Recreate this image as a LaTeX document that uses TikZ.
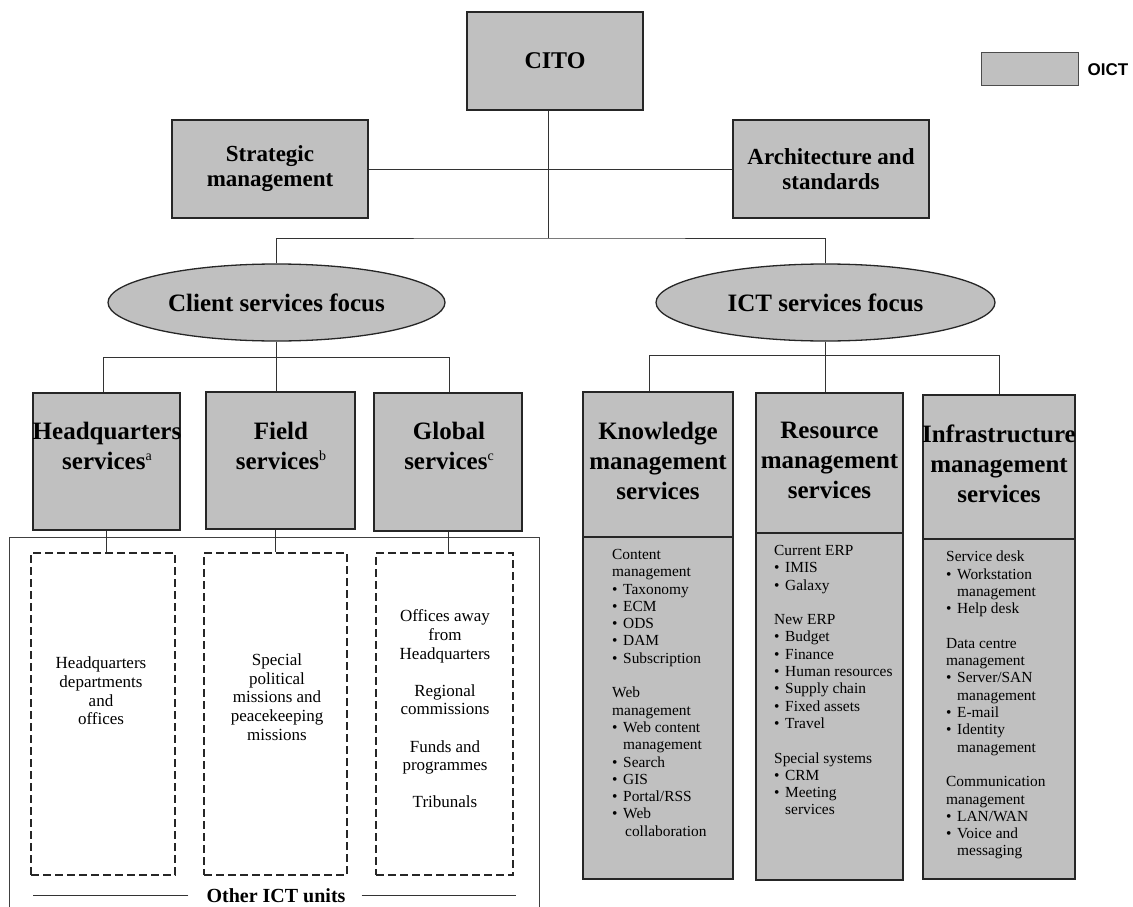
\documentclass[tikz,border=0pt]{standalone}
\usepackage{fontspec}
\setmainfont{Liberation Serif}
\newfontfamily\arialfont{Liberation Sans}
\usetikzlibrary{shapes.geometric}
\definecolor{boxgray}{HTML}{C0C0C0}
\newcommand{\lbul}{\makebox[11pt][l]{•}}
\newcommand{\lind}{\hspace*{11pt}}
\newcommand{\supl}[1]{\raisebox{9pt}{\fontsize{14}{14}\mdseries\selectfont #1}}
\begin{document}
\begin{tikzpicture}[x=1pt,y=-1pt,
  gbox/.style={draw=black!85, line width=1.6pt, fill=boxgray, inner sep=0pt},
  conn/.style={draw=black!80, line width=0.9pt},
  dbox/.style={draw=black!85, line width=1.8pt, dash pattern=on 8pt off 4pt, inner sep=0pt},
  ttl/.style={font=\fontsize{23}{25}\selectfont\bfseries, align=center},
  stitle/.style={font=\fontsize{25}{30}\selectfont\bfseries, align=center, inner sep=0pt},
  ltxt/.style={font=\fontsize{15.4}{17.3}\selectfont, align=left, inner sep=0pt, anchor=north west},
  dtxt/.style={font=\fontsize{17}{18.6}\selectfont, align=center, inner sep=0pt},
  focus/.style={ellipse, draw=black!85, line width=1.3pt, fill=boxgray, inner sep=0pt,
     minimum height=77pt, font=\fontsize{25}{28}\selectfont\bfseries},
]
\useasboundingbox (0,0) rectangle (1133,907);

% top level
\node[gbox, minimum width=176pt, minimum height=98pt, font=\fontsize{24}{28}\selectfont\bfseries] (cito) at (555,61) {CITO};
\node[gbox, minimum width=196pt, minimum height=98pt, ttl] (strat) at (270,169) {Strategic\\management};
\node[gbox, minimum width=196pt, minimum height=98pt, ttl] (arch) at (831,169) {Architecture and\\standards};

% legend
\node[draw=black!70, line width=1pt, fill=boxgray, minimum width=97pt, minimum height=33pt, inner sep=0pt] (leg) at (1029.5,69.5) {};
\node[font=\arialfont\fontsize{17}{20}\selectfont\bfseries, anchor=west, inner sep=0pt, xshift=9pt] (legt) at (leg.east) {OICT};

% focus ellipses
\node[focus, minimum width=337pt] (client) at (276.5,302.5) {Client services focus};
\node[focus, minimum width=339pt] (ict) at (825.5,302.5) {ICT services focus};

% left service boxes
\node[gbox, minimum width=147pt, minimum height=137pt] (hq) at (106.5,461.5) {};
\node[gbox, minimum width=149pt, minimum height=137pt] (field) at (280.5,460.5) {};
\node[gbox, minimum width=148pt, minimum height=138pt] (global) at (448,462) {};
\node[stitle] (hqt) at (107,445.5) {Headquarters\\services\supl{a}};
\node[stitle] (fieldt) at (281,445.5) {Field\\services\supl{b}};
\node[stitle] (globalt) at (449,445.5) {Global\\services\supl{c}};

% right service columns
\node[gbox, minimum width=150pt, minimum height=342pt] (kl) at (658,708) {};
\node[gbox, minimum width=150pt, minimum height=145pt] (km) at (658,464.5) {};
\node[gbox, minimum width=147pt, minimum height=347pt] (rl) at (829.5,706.5) {};
\node[gbox, minimum width=147pt, minimum height=140pt] (rm) at (829.5,463) {};
\node[gbox, minimum width=152pt, minimum height=340pt] (il) at (999,709) {};
\node[gbox, minimum width=152pt, minimum height=144pt] (im) at (999,467) {};
\node[stitle] (kmt) at (658,460.5) {Knowledge\\management\\services};
\node[stitle] (rmt) at (829.5,460.5) {Resource\\management\\services};
\node[stitle] (imt) at (999,463.5) {Infrastructure\\management\\services};

\node[ltxt] (klt) at (612,549) {Content\\management\\\lbul Taxonomy\\\lbul ECM\\\lbul ODS\\\lbul DAM\\\lbul Subscription\\[17.3pt]Web\\management\\\lbul Web content\\\lind management\\\lbul Search\\\lbul GIS\\\lbul Portal/RSS\\\lbul Web\\\hspace*{13pt}collaboration};
\node[ltxt] (rlt) at (774,545) {Current ERP\\\lbul IMIS\\\lbul Galaxy\\[17.3pt]New ERP\\\lbul Budget\\\lbul Finance\\\lbul Human resources\\\lbul Supply chain\\\lbul Fixed assets\\\lbul Travel\\[17.3pt]Special systems\\\lbul CRM\\\lbul Meeting\\\lind services};
\node[ltxt] (ilt) at (946,551) {Service desk\\\lbul Workstation\\\lind management\\\lbul Help desk\\[17.3pt]Data centre\\management\\\lbul Server/SAN\\\lind management\\\lbul E-mail\\\lbul Identity\\\lind management\\[17.3pt]Communication\\management\\\lbul LAN/WAN\\\lbul Voice and\\\lind messaging};

% other ICT units frame
\draw[line width=0.9pt, draw=black!75] (9,915) -- (9,537) -- (539,537) -- (539,915);
\node[dbox, minimum width=144pt, minimum height=322pt] (d1) at (103,714) {};
\node[dbox, minimum width=143pt, minimum height=322pt] (d2) at (275.5,714) {};
\node[dbox, minimum width=137pt, minimum height=322pt] (d3) at (444.5,714) {};
\node[dtxt] (d1t) at (101,691) {Headquarters\\departments\\and\\offices};
\node[dtxt] (d2t) at (277,697) {Special\\political\\missions and\\peacekeeping\\missions};
\node[dtxt] (d3t) at (445,709) {Offices away\\from\\Headquarters\\[18.6pt]Regional\\commissions\\[18.6pt]Funds and\\programmes\\[18.6pt]Tribunals};
\node[font=\fontsize{20}{24}\selectfont\bfseries, inner sep=0pt] (oth) at (276,896) {Other ICT units};
\draw[conn] (oth.west) ++(-18pt,1pt) -- ++(-155pt,0);
\draw[conn] (oth.east) ++(16pt,1pt) -- ++(154pt,0);

% connectors
\coordinate (top) at (548,238);
\draw[conn] (cito.south -| top) -- (top);
\draw[conn] (strat.east) -- (arch.west);
\draw[conn] (client.north) |- (top) -| (ict.north);

\coordinate (cb) at (276.5,357);
\coordinate (c1) at (103,357);
\coordinate (c3) at (449,357);
\draw[conn] (client.south) -- (cb);
\draw[conn] (hq.north -| c1) -- (c1) -- (c3) -- (c3 |- global.north);
\draw[conn] (cb) -- (cb |- field.north);

\coordinate (ib) at (825.5,355);
\coordinate (i1) at (649,355);
\coordinate (i3) at (999,355);
\draw[conn] (ict.south) -- (ib);
\draw[conn] (km.north -| i1) -- (i1) -- (i3) -- (i3 |- im.north);
\draw[conn] (ib) -- (ib |- rm.north);

\draw[conn] (hq.south) -- (hq.south |- d1.north);
\draw[conn] (d2.north) -- (d2.north |- field.south);
\draw[conn] (global.south) -- (global.south |- d3.north);
\end{tikzpicture}
\end{document}
